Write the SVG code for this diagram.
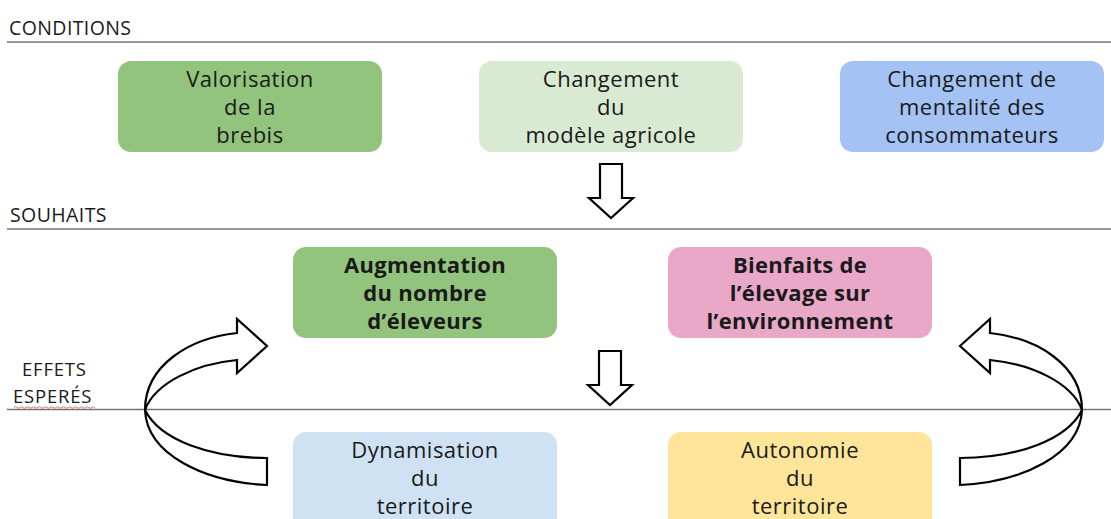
<svg xmlns="http://www.w3.org/2000/svg" width="1111" height="519" viewBox="0 0 1111 519">
  <style>
    .sec { font-family: "Open Sans", Lato, sans-serif; font-size: 19.5px; letter-spacing: 0.4px; fill: #1a1a1a; }
    .sec.s { font-size: 18.5px; letter-spacing: 0.8px; }
    .rule { stroke: #747474; stroke-width: 1.6; fill: none; }
    .box { stroke: none; }
    .lbl { font-family: "Open Sans", Lato, sans-serif; font-size: 22px; letter-spacing: 0.5px; fill: #1a1a1a; text-anchor: middle; }
    .lbl.b { font-weight: bold; letter-spacing: 0.3px; }
    .arrow { fill: #ffffff; stroke: #000000; stroke-width: 2.2; stroke-linejoin: miter; }
  </style>
  <defs>
    <path id="down" d="M -11 0 H 11 V 34 H 22 L 0 54 L -22 34 H -11 Z"/>
    <path id="loop" d="M 267 458 V 485 C 205 482 147 455 145 410 C 145 365 190 338 237 333 V 319 L 267 346 L 237 373 V 360 C 195 364 155 383 145 410 C 160 440 210 458 267 458 Z"/>
  </defs>

  <rect width="1111" height="519" fill="#ffffff"/>

  <!-- section headings and rules -->
  <g id="sections">
    <text class="sec" x="9" y="35">CONDITIONS</text>
    <line class="rule" x1="7" y1="42" x2="1111" y2="42"/>
    <text class="sec" x="10" y="222">SOUHAITS</text>
    <line class="rule" x1="7" y1="229" x2="1111" y2="229"/>
    <text class="sec s" x="22" y="376">EFFETS</text>
    <text class="sec s" x="13" y="403">ESPERÉS</text>
    <path d="M 14 407.5 q 1.5 -1.5 3 0 t 3 0 t 3 0 t 3 0 t 3 0 t 3 0 t 3 0 t 3 0 t 3 0 t 3 0 t 3 0 t 3 0 t 3 0 t 3 0 t 3 0 t 3 0 t 3 0 t 3 0 t 3 0 t 3 0 t 3 0 t 3 0 t 3 0 t 3 0 t 3 0 t 3 0 t 3 0" fill="none" stroke="#e06060" stroke-width="0.9"/>
    <line class="rule" x1="7" y1="409.5" x2="1111" y2="409.5"/>
  </g>

  <!-- conditions -->
  <g id="valorisation">
    <rect class="box" x="118" y="61" width="264" height="91" rx="13" fill="#93c47d"/>
    <text class="lbl" x="250" y="87">Valorisation</text>
    <text class="lbl" x="250" y="115">de la</text>
    <text class="lbl" x="250" y="143">brebis</text>
  </g>
  <g id="modele">
    <rect class="box" x="479" y="61" width="264" height="91" rx="13" fill="#d9ead3"/>
    <text class="lbl" x="611" y="87">Changement</text>
    <text class="lbl" x="611" y="115">du</text>
    <text class="lbl" x="611" y="143">modèle agricole</text>
  </g>
  <g id="mentalite">
    <rect class="box" x="840" y="61" width="264" height="91" rx="13" fill="#a4c2f4"/>
    <text class="lbl" x="972" y="87">Changement de</text>
    <text class="lbl" x="972" y="115">mentalité des</text>
    <text class="lbl" x="972" y="143">consommateurs</text>
  </g>

  <!-- wishes -->
  <g id="augmentation">
    <rect class="box" x="293" y="247" width="264" height="91" rx="13" fill="#93c47d"/>
    <text class="lbl b" x="425" y="273">Augmentation</text>
    <text class="lbl b" x="425" y="301">du nombre</text>
    <text class="lbl b" x="425" y="329">d’éleveurs</text>
  </g>
  <g id="bienfaits">
    <rect class="box" x="668" y="247" width="264" height="91" rx="13" fill="#eaa8c9"/>
    <text class="lbl b" x="800" y="273">Bienfaits de</text>
    <text class="lbl b" x="800" y="301">l’élevage sur</text>
    <text class="lbl b" x="800" y="329">l’environnement</text>
  </g>

  <!-- expected effects -->
  <g id="dynamisation">
    <rect class="box" x="293" y="432" width="264" height="100" rx="13" fill="#cfe2f3"/>
    <text class="lbl" x="425" y="458">Dynamisation</text>
    <text class="lbl" x="425" y="486">du</text>
    <text class="lbl" x="425" y="514">territoire</text>
  </g>
  <g id="autonomie">
    <rect class="box" x="668" y="432" width="264" height="100" rx="13" fill="#ffe599"/>
    <text class="lbl" x="800" y="458">Autonomie</text>
    <text class="lbl" x="800" y="486">du</text>
    <text class="lbl" x="800" y="514">territoire</text>
  </g>

  <!-- connectors -->
  <g id="connectors">
    <use href="#down" class="arrow" transform="translate(611,164)"/>
    <use href="#down" class="arrow" transform="translate(610,351)"/>
    <use href="#loop" class="arrow"/>
    <use href="#loop" class="arrow" transform="translate(1227,0) scale(-1,1)"/>
  </g>
</svg>
